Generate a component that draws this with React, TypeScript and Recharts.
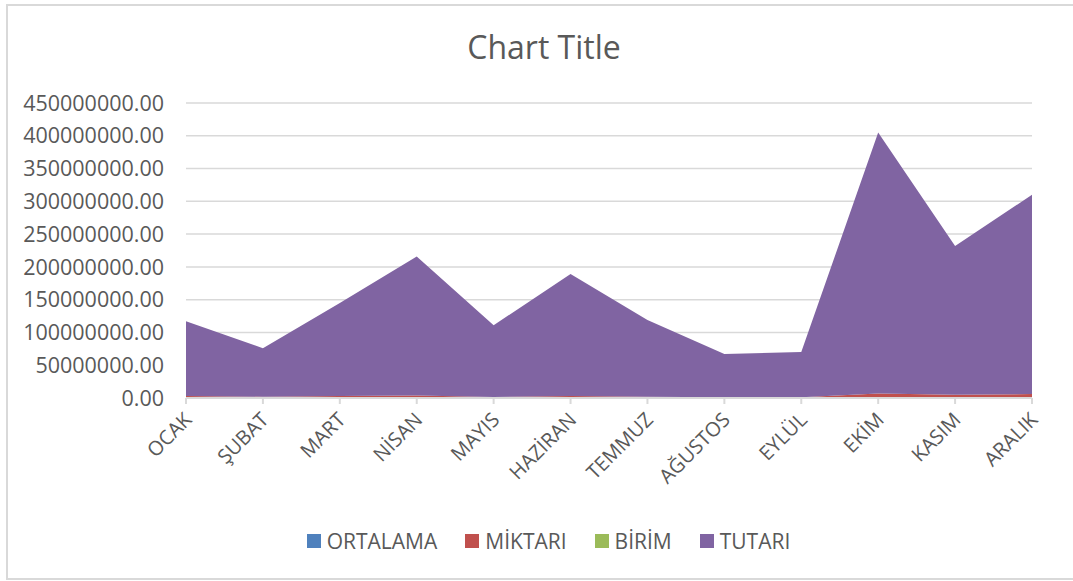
import React from 'react';
import { AreaChart, Area, XAxis, YAxis, CartesianGrid } from 'recharts';

// Months (Turkish)
const MONTHS = ['OCAK', 'ŞUBAT', 'MART', 'NİSAN', 'MAYIS', 'HAZİRAN', 'TEMMUZ', 'AĞUSTOS', 'EYLÜL', 'EKİM', 'KASIM', 'ARALIK'];

// Series values
const ORTALAMA = [35, 38, 42, 45, 39, 41, 40, 37, 36, 52, 47, 50];
const MIKTARI = [3000000, 2000000, 3000000, 4000000, 1500000, 3000000, 2000000, 1000000, 1000000, 7000000, 5000000, 6000000];
const BIRIM = [12, 11, 13, 14, 12, 13, 12, 11, 11, 15, 14, 15];
const TUTARI = [114000000, 74000000, 142000000, 212000000, 109500000, 186000000, 117000000, 66000000, 69000000, 398000000, 227000000, 304000000];

const Y_TICKS = [0, 50000000, 100000000, 150000000, 200000000, 250000000, 300000000, 350000000, 400000000, 450000000];

const COLORS = {
    ortalama: '#4f81bd',
    miktari: '#c0504d',
    birim: '#9bbb59',
    tutari: '#8064a2',
};

const data = MONTHS.map((name, i) => ({
    name,
    ortalama: ORTALAMA[i],
    miktari: MIKTARI[i],
    birim: BIRIM[i],
    tutari: TUTARI[i],
}));

const LEGEND = [
    { label: 'ORTALAMA', color: COLORS.ortalama },
    { label: 'MİKTARI', color: COLORS.miktari },
    { label: 'BİRİM', color: COLORS.birim },
    { label: 'TUTARI', color: COLORS.tutari },
];

const FONT = '"Open Sans", sans-serif';

function MonthTick({ x, y, payload }: any) {
    return (
        <text
            x={0}
            y={0}
            transform={`translate(${x + 7}, ${y + 15}) rotate(-45)`}
            textAnchor="end"
            fill="#595959"
            fontSize={20}
            fontFamily={FONT}
        >
            {payload.value}
        </text>
    );
}

export default function App() {
    return (
        <div style={{ position: 'absolute', left: 0, top: 0, width: 1073, height: 581, background: '#fff', fontFamily: FONT }}>
            <div style={{ position: 'absolute', left: 6, top: 4, width: 1080, height: 572, border: '2px solid #d9d9d9' }} />
            <div style={{ position: 'absolute', left: 0, top: 25, width: 1088, textAlign: 'center', fontSize: 32, color: '#595959' }}>
                Chart Title
            </div>
            <AreaChart
                width={1073}
                height={581}
                data={data}
                margin={{ top: 103, right: 41, left: 0, bottom: 0 }}
                style={{ position: 'absolute', left: 0, top: 0 }}
            >
                <CartesianGrid vertical={false} stroke="#d9d9d9" strokeWidth={1.5} />
                <XAxis
                    dataKey="name"
                    height={183}
                    interval={0}
                    stroke="#d9d9d9"
                    strokeWidth={2}
                    tickSize={6}
                    tick={<MonthTick />}
                />
                <YAxis
                    width={186}
                    domain={[0, 450000000]}
                    ticks={Y_TICKS}
                    axisLine={false}
                    tickLine={false}
                    tickSize={0}
                    tickMargin={22}
                    tickFormatter={(v) => Number(v).toFixed(2)}
                    tick={{ fill: '#595959', fontSize: 21.5, fontFamily: FONT }}
                />
                <Area dataKey="ortalama" stackId="1" stroke="none" fill={COLORS.ortalama} fillOpacity={1} isAnimationActive={false} />
                <Area dataKey="miktari" stackId="1" stroke="none" fill={COLORS.miktari} fillOpacity={1} isAnimationActive={false} />
                <Area dataKey="birim" stackId="1" stroke="none" fill={COLORS.birim} fillOpacity={1} isAnimationActive={false} />
                <Area dataKey="tutari" stackId="1" stroke="none" fill={COLORS.tutari} fillOpacity={1} isAnimationActive={false} />
            </AreaChart>
            <div style={{ position: 'absolute', left: 0, top: 527, width: 1097, display: 'flex', justifyContent: 'center', gap: 28, fontSize: 21, color: '#595959' }}>
                {LEGEND.map((l) => (
                    <div key={l.label} style={{ display: 'flex', alignItems: 'center' }}>
                        <span style={{ display: 'inline-block', width: 14, height: 14, background: l.color, marginRight: 6 }} />
                        {l.label}
                    </div>
                ))}
            </div>
        </div>
    );
}
